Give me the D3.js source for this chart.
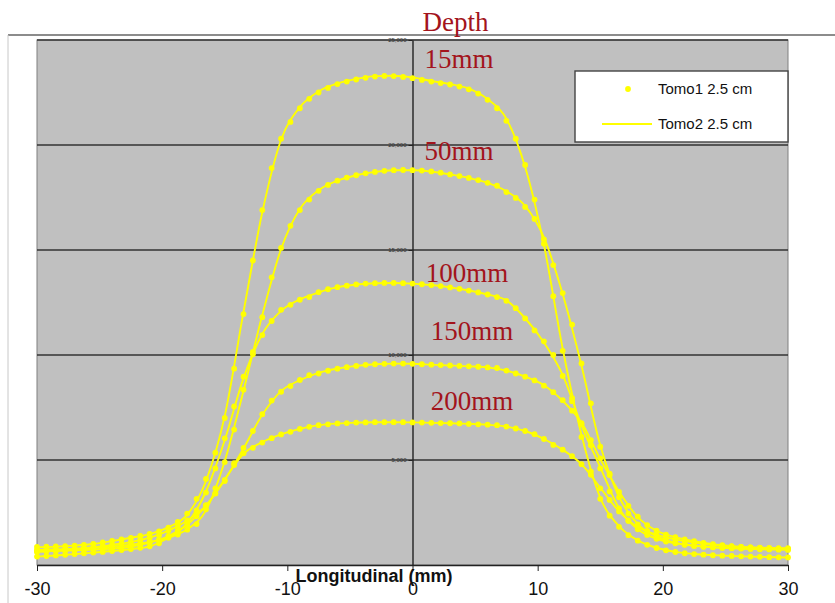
<!DOCTYPE html>
<html>
<head>
<meta charset="UTF-8">
<script src="https://d3js.org/d3.v7.min.js"></script>
<style>
  body { margin: 0; background: #fff; }
  svg { display: block; }
</style>
</head>
<body>
<svg></svg>
<script>
const width = 835, height = 603;

// sample positions (mm) of the Tomo1 points
const xs = [-30, -29.25, -28.5, -27.75, -27, -26.25, -25.5, -24.75, -24, -23.25, -22.5, -21.75, -21, -20.25,
  -19.5, -18.75, -18, -17.25, -16.5, -15.75, -15, -14.25, -13.5, -12.75, -12, -11.25, -10.5, -9.75, -9,
  -8.25, -7.5, -6.75, -6, -5.25, -4.5, -3.75, -3, -2.25, -1.5, -0.75, 0, 0.75, 1.5, 2.25, 3, 3.75, 4.5,
  5.25, 6, 6.75, 7.5, 8.25, 9, 9.75, 10.5, 11.25, 12, 12.75, 13.5, 14.25, 15, 15.75, 16.5, 17.25, 18,
  18.75, 19.5, 20.25, 21, 21.75, 22.5, 23.25, 24, 24.75, 25.5, 26.25, 27, 27.75, 28.5, 29.25, 30];

// Tomo1 2.5 cm (points)
const tomo1_15 = [860, 870, 880, 895, 920, 960, 1010, 1080, 1150, 1220, 1290, 1380, 1480, 1600, 1780, 2050,
  2450, 3150, 4100, 5350, 7000, 9350, 11950, 14500, 16900, 18900, 20300, 21100, 21750, 22200, 22500, 22720,
  22900, 23020, 23120, 23200, 23260, 23290, 23280, 23240, 23180, 23100, 23020, 22950, 22880, 22780, 22650,
  22450, 22150, 21750, 21150, 20300, 19050, 17400, 15300, 12800, 10200, 7950, 6100, 4450, 3150, 2350, 1820,
  1420, 1160, 960, 810, 700, 620, 560, 520, 490, 465, 445, 430, 415, 400, 390, 375, 365, 360];
const tomo1_50 = [720, 730, 740, 755, 770, 790, 815, 845, 880, 920, 970, 1030, 1100, 1190, 1300, 1450, 1680,
  1950, 2650, 3650, 4900, 6450, 8350, 10150, 11800, 13700, 15100, 16150, 16900, 17400, 17820, 18100, 18300,
  18450, 18560, 18650, 18720, 18770, 18800, 18810, 18800, 18780, 18740, 18680, 18600, 18520, 18430, 18330,
  18200, 18060, 17760, 17480, 17050, 16480, 15500, 14280, 12950, 11450, 9600, 7700, 5630, 4280, 3230, 2450,
  1930, 1600, 1360, 1180, 1060, 980, 920, 880, 850, 830, 810, 795, 785, 775, 770, 765, 760];
const tomo1_100 = [650, 660, 670, 680, 695, 710, 730, 755, 785, 820, 880, 980, 1070, 1200, 1380, 1650, 2050,
  2600, 3450, 4600, 6030, 7550, 8970, 10030, 10950, 11620, 12150, 12390, 12630, 12760, 12990, 13130, 13230,
  13300, 13360, 13400, 13420, 13430, 13430, 13420, 13400, 13370, 13330, 13280, 13220, 13150, 13070, 12980,
  12880, 12760, 12580, 12230, 11740, 11170, 10650, 10000, 9000, 7800, 6700, 5700, 4600, 3500, 2700, 2100,
  1700, 1430, 1250, 1120, 1030, 960, 910, 870, 840, 815, 795, 780, 765, 750, 740, 730, 720];
const tomo1_150 = [620, 650, 690, 720, 760, 800, 850, 900, 960, 1020, 1090, 1190, 1300, 1420, 1640, 1840,
  2120, 2450, 2830, 3400, 4000, 4850, 5580, 6380, 7180, 7830, 8250, 8520, 8810, 9040, 9120, 9250, 9350, 9420,
  9480, 9530, 9560, 9580, 9590, 9590, 9580, 9560, 9540, 9520, 9500, 9480, 9460, 9440, 9410, 9380, 9260, 9120,
  8970, 8790, 8540, 8230, 7850, 7350, 6750, 5950, 5080, 4350, 3480, 2820, 2300, 1900, 1630, 1450, 1330, 1220,
  1130, 1050, 990, 940, 900, 865, 835, 810, 790, 775, 760];
const tomo1_200 = [400, 425, 455, 485, 520, 555, 590, 625, 665, 710, 760, 820, 890, 1030, 1320, 1600, 1900,
  2320, 2850, 3420, 4050, 4760, 5320, 5580, 5830, 6040, 6220, 6340, 6480, 6580, 6660, 6700, 6740, 6760, 6780,
  6790, 6800, 6800, 6800, 6800, 6790, 6780, 6770, 6760, 6750, 6740, 6720, 6700, 6680, 6660, 6590, 6500, 6380,
  6230, 6000, 5720, 5490, 5180, 4800, 4300, 3650, 3100, 2550, 2120, 1800, 1620, 1450, 1320, 1220, 1140, 1070,
  1010, 960, 920, 885, 860, 840, 825, 815, 805, 800];

// sample positions (mm) of the Tomo2 line
const xs2 = [-30, -28.5, -27, -25.5, -24, -22.5, -21, -19.5, -18, -16.5, -15, -13.5, -12, -10.5, -9, -7.5,
  -6, -4.5, -3, -1.5, 0, 1.5, 3, 4.5, 6, 7.5, 9, 10.5, 12, 13.5, 15, 16.5, 18, 19.5, 21, 22.5, 24, 25.5,
  27, 28.5, 30];

// Tomo2 2.5 cm (lines)
const tomo2_15 = [850, 875, 925, 1000, 1140, 1300, 1470, 1800, 2400, 4000, 7100, 12050, 16800, 20250, 21800,
  22550, 22930, 23150, 23280, 23300, 23220, 23050, 22900, 22680, 22180, 21250, 18950, 15250, 10300, 6200,
  3200, 1850, 1170, 820, 625, 525, 470, 430, 400, 378, 360];
const tomo2_50 = [715, 740, 770, 815, 880, 970, 1100, 1300, 1700, 2600, 4950, 8300, 11900, 15050, 16950,
  17850, 18300, 18560, 18720, 18800, 18800, 18740, 18600, 18430, 18200, 17800, 17100, 15600, 12900, 9500,
  5700, 3250, 1950, 1360, 1060, 920, 850, 810, 785, 770, 760];
const tomo2_100 = [650, 670, 695, 730, 785, 880, 1070, 1380, 2000, 3500, 5950, 8900, 11000, 12100, 12650,
  12980, 13230, 13360, 13420, 13430, 13400, 13330, 13220, 13070, 12880, 12600, 11750, 10600, 9050, 6650,
  4650, 2700, 1700, 1250, 1030, 910, 840, 795, 765, 740, 720];
const tomo2_150 = [620, 690, 760, 850, 960, 1090, 1300, 1640, 2120, 2830, 4050, 5550, 7150, 8280, 8800, 9150,
  9350, 9480, 9560, 9590, 9580, 9540, 9500, 9460, 9410, 9260, 8970, 8560, 7820, 6780, 5050, 3500, 2280,
  1630, 1330, 1130, 990, 900, 835, 790, 760];
const tomo2_200 = [400, 455, 520, 590, 665, 760, 890, 1300, 1920, 2820, 4080, 5300, 5850, 6220, 6480, 6660,
  6740, 6780, 6800, 6800, 6790, 6770, 6750, 6720, 6680, 6590, 6380, 6000, 5490, 4800, 3680, 2560, 1800,
  1450, 1220, 1070, 960, 885, 840, 815, 800];

const xTicks = [-30, -20, -10, 0, 10, 20, 30];
const yTicks = [5000, 10000, 15000, 20000, 25000];

const depthNames = ["15mm", "50mm", "100mm", "150mm", "200mm"];
const depthLabelX = [0.95, 0.95, 1.05, 1.45, 1.45];
const depthLabelY = [23650, 19300, 13480, 10720, 7380];

const tomo1 = [tomo1_15, tomo1_50, tomo1_100, tomo1_150, tomo1_200];
const tomo2 = [tomo2_15, tomo2_50, tomo2_100, tomo2_150, tomo2_200];

const yellow = "#ffff00";
const darkRed = "#a3141c";

let svg = d3.select("svg")
  .attr("width", width)
  .attr("height", height)
  .style("font-family", "'Liberation Sans', Arial, sans-serif");

let x = d3.scaleLinear().domain([-30, 30]).range([37, 788]);
let y = d3.scaleLinear().domain([0, 25000]).range([565, 40]);

// outer frame lines
svg.append("line")
  .attr("x1", 8).attr("x2", width).attr("y1", 35).attr("y2", 35)
  .attr("stroke", "#8c8c8c").attr("stroke-width", 2);
svg.append("line")
  .attr("x1", 8).attr("x2", 8).attr("y1", 35).attr("y2", height)
  .attr("stroke", "#c8c8c8").attr("stroke-width", 1);

// plot area
svg.append("rect")
  .attr("x", x(-30)).attr("y", y(25000))
  .attr("width", x(30) - x(-30)).attr("height", y(0) - y(25000))
  .attr("fill", "#c0c0c0")
  .attr("stroke", "#808080")
  .attr("stroke-width", 1);

// gridlines
svg.append("g")
  .selectAll("line")
  .data(yTicks)
  .join("line")
  .attr("x1", x(-30)).attr("x2", x(30))
  .attr("y1", d => y(d)).attr("y2", d => y(d))
  .attr("stroke", "#333")
  .attr("stroke-width", 1.6);

// y axis through x = 0
let yAxis = svg.append("g")
  .attr("transform", "translate(" + x(0) + ",0)")
  .call(d3.axisLeft(y).tickValues(yTicks).tickSize(4).tickPadding(2).tickSizeOuter(0));
yAxis.select(".domain").attr("stroke", "#222").attr("stroke-width", 1.4);
yAxis.selectAll(".tick line").attr("stroke", "#222");
yAxis.selectAll("text")
  .style("font-size", "6px")
  .attr("fill", "#333");

// x axis
let xAxis = svg.append("g")
  .attr("transform", "translate(0," + y(0) + ")")
  .call(d3.axisBottom(x).tickValues(xTicks).tickFormat(d => String(d))
    .tickSize(6).tickPadding(11).tickSizeOuter(0));
xAxis.select(".domain").attr("stroke", "#222").attr("stroke-width", 1.4);
xAxis.selectAll(".tick line").attr("stroke", "#222");
xAxis.selectAll("text")
  .style("font-family", "'Liberation Sans Narrow', 'Arial Narrow', sans-serif")
  .style("font-size", "18px")
  .attr("fill", "#111");

svg.append("text")
  .attr("x", 374).attr("y", 582)
  .attr("text-anchor", "middle")
  .style("font-family", "'Liberation Sans Narrow', 'Arial Narrow', sans-serif")
  .style("font-size", "18px")
  .style("font-weight", "bold")
  .attr("fill", "#111")
  .text("Longitudinal (mm)");

// Tomo2 lines
let line = d3.line()
  .x((d, i) => x(xs2[i]))
  .y(d => y(d))
  .curve(d3.curveMonotoneX);

svg.append("g")
  .selectAll("path")
  .data(tomo2)
  .join("path")
  .attr("d", line)
  .attr("fill", "none")
  .attr("stroke", yellow)
  .attr("stroke-width", 1.9);

// Tomo1 points
tomo1.forEach(series => {
  svg.append("g")
    .selectAll("circle")
    .data(series)
    .join("circle")
    .attr("cx", (d, i) => x(xs[i]))
    .attr("cy", d => y(d))
    .attr("r", 2.9)
    .attr("fill", yellow);
});

// depth labels
svg.append("text")
  .attr("x", x(0.8)).attr("y", 31)
  .style("font-family", "'Liberation Serif', 'Times New Roman', serif")
  .style("font-size", "27px")
  .attr("fill", darkRed)
  .text("Depth");

svg.append("g")
  .selectAll("text")
  .data(depthNames)
  .join("text")
  .attr("x", (d, i) => x(depthLabelX[i]))
  .attr("y", (d, i) => y(depthLabelY[i]))
  .style("font-family", "'Liberation Serif', 'Times New Roman', serif")
  .style("font-size", "27px")
  .attr("fill", darkRed)
  .text(d => d);

// legend
let legend = svg.append("g").attr("transform", "translate(575,71)");
legend.append("rect")
  .attr("width", 213).attr("height", 71)
  .attr("fill", "#fff")
  .attr("stroke", "#444")
  .attr("stroke-width", 1.4);
legend.append("circle")
  .attr("cx", 53).attr("cy", 18).attr("r", 2.9)
  .attr("fill", yellow);
legend.append("line")
  .attr("x1", 27).attr("x2", 77).attr("y1", 53).attr("y2", 53)
  .attr("stroke", yellow).attr("stroke-width", 2);
legend.append("text")
  .attr("x", 83).attr("y", 18).attr("dy", "0.35em")
  .style("font-size", "15px").attr("fill", "#111")
  .text("Tomo1 2.5 cm");
legend.append("text")
  .attr("x", 83).attr("y", 53).attr("dy", "0.35em")
  .style("font-size", "15px").attr("fill", "#111")
  .text("Tomo2 2.5 cm");
</script>
</body>
</html>
